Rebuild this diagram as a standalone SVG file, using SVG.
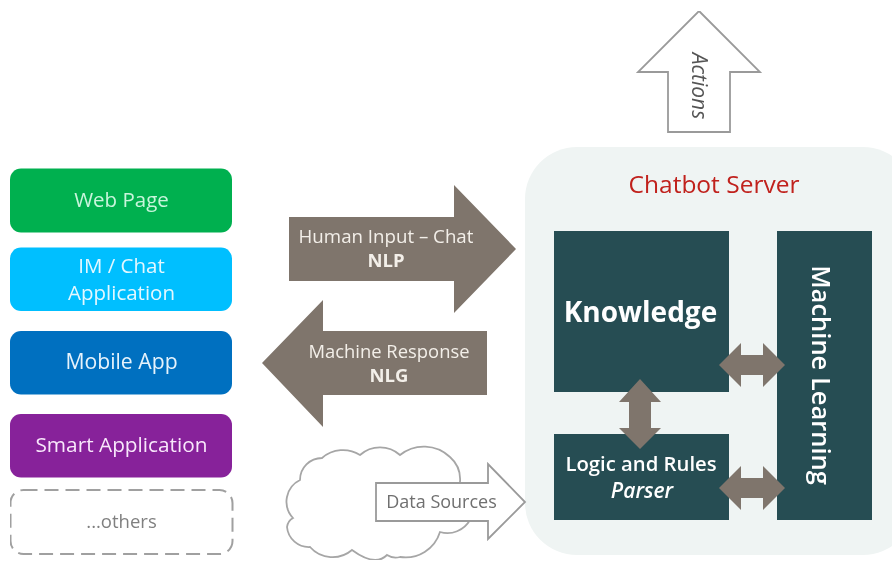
<svg xmlns="http://www.w3.org/2000/svg" width="892" height="565" viewBox="0 0 892 565">
<style>
text{font-family:"Open Sans","Liberation Sans",sans-serif;text-anchor:middle}
.c{fill:#fff;stroke:#a6a6a6;stroke-width:1.800}
.o{fill:#fff;stroke:#9a9a9a;stroke-width:1.800;stroke-linejoin:miter}
.b{fill:#7f756c}
.t{fill:#264d53}
</style>
<defs><filter id="soft" x="0" y="0" width="100%" height="100%"><feGaussianBlur stdDeviation="0.4"/></filter></defs>
<rect width="892" height="565" fill="#fff"/>
<g filter="url(#soft)">
<g id="web-page"><rect x="10" y="168.500" width="222" height="64" rx="11" fill="#00b050"/><text x="121.500" y="207" font-size="20.500" fill="#c8f5dc">Web Page</text></g>
<g id="im-chat"><rect x="10" y="247.500" width="222" height="63.500" rx="11" fill="#00bfff"/><text x="121.500" y="273" font-size="20.500" fill="#e3f7ff">IM / Chat</text><text x="121.500" y="300" font-size="20.500" fill="#e3f7ff">Application</text></g>
<g id="mobile-app"><rect x="10" y="331" width="222" height="63.500" rx="11" fill="#0070c0"/><text x="121.500" y="369" font-size="21.200" fill="#e6f3fc">Mobile App</text></g>
<g id="smart-application"><rect x="10" y="414" width="222" height="63.500" rx="11" fill="#87209a"/><text x="121.500" y="452" font-size="20.800" fill="#f8e8fb">Smart Application</text></g>
<g id="others"><rect x="10.500" y="490" width="222" height="64" rx="13" fill="#fff" stroke="#a0a0a0" stroke-width="2" stroke-dasharray="14 7"/><text x="121.500" y="528" font-size="18.500" fill="#808080">...others</text></g>
<g id="chatbot-server"><rect x="525" y="147" width="390" height="408" rx="52" fill="#eff4f3"/><text x="714" y="193" font-size="24.500" fill="#c0201c">Chatbot Server</text></g>
<g id="knowledge"><rect x="554" y="231" width="175" height="161" class="t"/><text x="640.500" y="322" font-size="28" font-weight="700" fill="#fff">Knowledge</text></g>
<g id="logic-rules"><rect x="554" y="434" width="175" height="86" class="t"/><text x="641" y="471" font-size="20.300" font-weight="600" fill="#fff">Logic and Rules</text><text x="642" y="498" font-size="21" font-weight="600" font-style="italic" fill="#fff">Parser</text></g>
<g id="machine-learning"><rect x="777" y="231" width="95" height="289" class="t"/><text transform="translate(812 375) rotate(90)" font-size="25.500" font-weight="600" fill="#fff">Machine Learning</text></g>
<g id="cloud"><path class="c" d="M300 480A22 22 0 0 1 322 458A32 32 0 0 1 360 455A30 30 0 0 1 400 455A38 38 0 0 1 450 457A30 30 0 0 1 460 482L470 520A26 26 0 0 1 440 532A36 36 0 0 1 400 557A16 16 0 0 1 387 555Q375 567 352 550A30 30 0 0 1 310 547A22 22 0 0 1 287 527A12 12 0 0 1 293 518A24 24 0 0 1 300 480Z"/></g>
<g id="connectors">
<g id="human-input"><path class="b" d="M289 217H454V185L516 249L454 313V281H289Z"/><text x="386" y="243" font-size="18.700" fill="#f3efe9">Human Input – Chat</text><text x="386" y="267" font-size="18.500" font-weight="700" fill="#f3efe9">NLP</text></g>
<g id="machine-response"><path class="b" d="M487 331H323V300L262 363L323 427V395H487Z"/><text x="389" y="358" font-size="18.400" fill="#f3efe9">Machine Response</text><text x="389" y="382" font-size="18.500" font-weight="700" fill="#f3efe9">NLG</text></g>
<g id="data-sources"><path class="o" d="M376 483H488V464L525 502L488 539V521H376Z"/><text x="441.500" y="508" font-size="18" fill="#6f6f6f">Data Sources</text></g>
<g id="actions"><path class="o" d="M699 11L760 72H730V132H668V72H638Z"/><text transform="translate(692 86) rotate(90)" font-size="21" font-style="italic" fill="#555">Actions</text></g>
<path class="b" d="M719 365L741 343V355H763V343L785 365L763 387V375H741V387Z"/>
<path class="b" d="M719 488L741 466V478H763V466L785 488L763 510V498H741V510Z"/>
<path class="b" d="M640 379L661 402H651V428H661L640 449L619 428H629V402H619Z"/>
</g>
</g>
</svg>
